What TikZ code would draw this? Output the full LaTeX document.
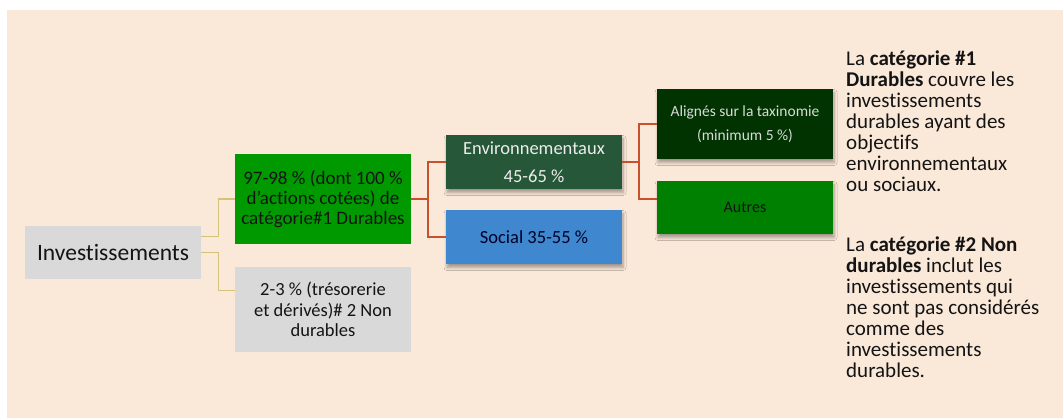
\documentclass[tikz,border=0pt]{standalone}
\usepackage{fontspec}
\setmainfont{Carlito}[Ligatures={CommonOff}]
\usetikzlibrary{shadows.blur,calc}
\definecolor{bgc}{RGB}{250,232,216}
\definecolor{boxgray}{RGB}{217,217,217}
\definecolor{grnA}{RGB}{0,153,0}
\definecolor{envc}{RGB}{38,87,56}
\definecolor{socc}{RGB}{63,136,207}
\definecolor{alic}{RGB}{0,51,0}
\definecolor{autc}{RGB}{0,128,0}
\definecolor{tanc}{RGB}{212,194,122}
\definecolor{redc}{RGB}{200,80,45}
\definecolor{txtc}{RGB}{20,20,20}
\tikzset{
  bx/.style={inner sep=0pt, minimum width=176pt, align=center, text=txtc},
  shd/.style={blur shadow={shadow xshift=1pt, shadow yshift=-3.5pt, shadow blur steps=6, shadow opacity=35, shadow blur radius=3pt}},
  tanline/.style={draw=tanc, line width=1.4pt},
  redline/.style={draw=redc, line width=1.8pt},
  side/.style={anchor=base west, inner sep=0pt, align=left, font=\fontsize{21}{21}\selectfont, text=txtc}
}
\begin{document}
\begin{tikzpicture}[x=1pt,y=-1pt]
\useasboundingbox (0,0) rectangle (1063,418);
\fill[white] (0,0) rectangle (1063,418);
\fill[bgc] (7,10) rectangle (1063,418);

\node[bx, fill=boxgray, minimum height=53pt, font=\fontsize{23.5}{26}\selectfont] (inv) at (113,252.5) {Investissements};
\node[bx, fill=grnA, minimum height=90pt, font=\fontsize{19}{20}\selectfont] (d1) at (323,199) {97-98 \% (dont 100 \%\\d’actions cotées) de\\catégorie\#1 Durables};
\node[bx, fill=boxgray, minimum height=85pt, font=\fontsize{18.5}{20.5}\selectfont] (nd) at (323,309.5) {2-3 \% (trésorerie\\et dérivés)\# 2 Non\\durables};
\node[bx, fill=envc, shd, minimum height=54pt, text=white!93!black, font=\fontsize{18.5}{28}\selectfont] (env) at (534,162) {Environnementaux\\45-65 \%};
\node[bx, fill=socc, shd, minimum height=54pt, text=black!85!blue, font=\fontsize{18.5}{22}\selectfont] (soc) at (534,237) {Social 35-55 \%};
\node[bx, fill=alic, shd, minimum height=70pt, text=white!85!black, font=\fontsize{15.5}{24}\selectfont] (ali) at (745,124) {Alignés sur la taxinomie\\(minimum 5 \%)};
\node[bx, fill=autc, shd, minimum height=53pt, font=\fontsize{16}{20}\selectfont] (aut) at (745,207.5) {Autres};

\coordinate (invA) at ($(inv.north east)!0.2!(inv.south east)$);
\coordinate (invB) at (inv.east);
\coordinate (ndA) at ($(nd.north west)!0.28!(nd.south west)$);
\coordinate (autA) at ($(aut.north west)!0.34!(aut.south west)$);

\draw[tanline] (invA) -- ++(17,0) |- (d1.west);
\draw[tanline] (invB) -- ++(17,0) |- (ndA);
\draw[redline] (d1.east) -- ++(17,0) |- (env.west);
\draw[redline] (d1.east) ++(17,0) |- (soc.west);
\draw[redline] (env.east) -- ++(17,0) |- (ali.west);
\draw[redline] (env.east) ++(17,0) |- (autA);

\node[side] (t1) at (846,191) {La \textbf{catégorie \#1}\\\textbf{Durables} couvre les\\investissements\\durables ayant des\\objectifs\\environnementaux\\ou sociaux.};
\node[side] (t2) at (846,377) {La \textbf{catégorie \#2 Non}\\\textbf{durables} inclut les\\investissements qui\\ne sont pas considérés\\comme des\\investissements\\durables.};
\end{tikzpicture}
\end{document}
